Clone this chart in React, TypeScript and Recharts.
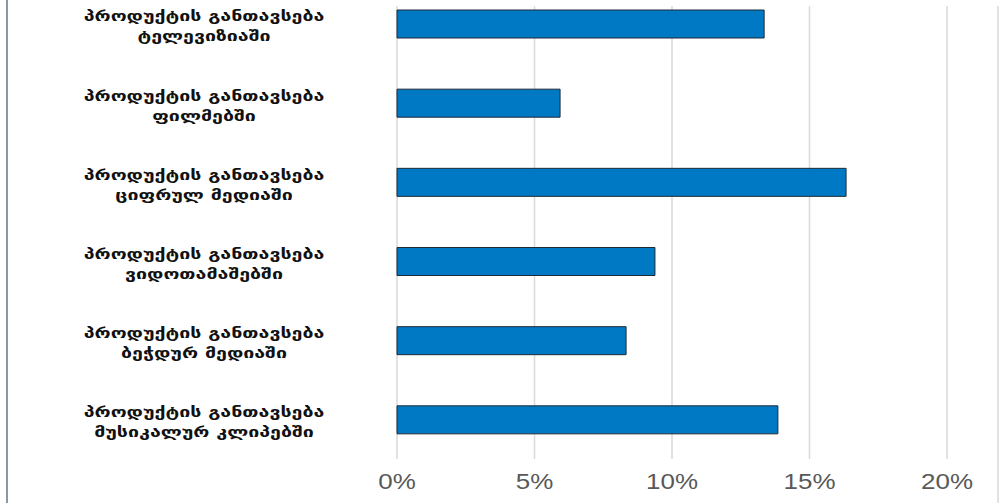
import { BarChart, Bar, XAxis, YAxis, CartesianGrid } from 'recharts';

const categories = [
  'პროდუქტის განთავსება\nტელევიზიაში',
  'პროდუქტის განთავსება\nფილმებში',
  'პროდუქტის განთავსება\nციფრულ მედიაში',
  'პროდუქტის განთავსება\nვიდოთამაშებში',
  'პროდუქტის განთავსება\nბეჭდურ მედიაში',
  'პროდუქტის განთავსება\nმუსიკალურ კლიპებში',
];

const shares = [0.1335, 0.0593, 0.1633, 0.0938, 0.0833, 0.1385];

const xTicks = [0, 0.05, 0.1, 0.15, 0.2];

const data = categories.map((name, i) => ({ name, value: shares[i] }));

// the source picture is stretched sideways, so the text is too
function CategoryTick({ x, y, payload }: any) {
  const lines = String(payload.value).split('\n');
  return (
    <g transform={`translate(${x - 185},${y}) scale(1.4,1)`}>
      <text textAnchor="middle" fontFamily="DejaVu Sans" fontWeight="bold" fontSize={14} fill="#111">
        {lines.map((line, i) => (
          <tspan key={i} x={0} dy={i === 0 ? '-0.15em' : 20}>
            {line}
          </tspan>
        ))}
      </text>
    </g>
  );
}

function PercentTick({ x, y, payload }: any) {
  return (
    <g transform={`translate(${x},${y}) scale(1.18,1)`}>
      <text textAnchor="middle" dy="0.71em" y={6} fontFamily="Liberation Sans" fontSize={22} fill="#595959">
        {`${Math.round(payload.value * 100)}%`}
      </text>
    </g>
  );
}

export default function App() {
  return (
    <div style={{ position: 'absolute', left: 0, top: 0, width: 999, height: 503, background: '#fff', overflow: 'hidden' }}>
      <div style={{ position: 'absolute', left: 6, top: 0, width: 2, height: 503, background: '#8a97a8' }} />
      <div style={{ position: 'absolute', left: 997, top: 6, width: 2, height: 497, background: '#e3e3e3' }} />
      <BarChart
        width={999}
        height={503}
        data={data}
        layout="vertical"
        margin={{ top: -16, right: 52, bottom: 0, left: 0 }}
        barSize={28}
      >
        <CartesianGrid horizontal={false} stroke="#d9d9d9" strokeWidth={1.5} />
        <XAxis
          type="number"
          domain={[0, 0.2]}
          ticks={xTicks}
          axisLine={false}
          tickLine={false}
          height={44}
          tick={<PercentTick />}
        />
        <YAxis
          type="category"
          dataKey="name"
          width={397}
          axisLine={false}
          tickLine={false}
          tick={<CategoryTick />}
          interval={0}
        />
        <Bar dataKey="value" fill="#0079c5" stroke="#1e2a36" strokeWidth={1} isAnimationActive={false} />
      </BarChart>
      <div style={{ position: 'absolute', left: 390, top: 0, width: 570, height: 6, background: '#fff' }} />
    </div>
  );
}
